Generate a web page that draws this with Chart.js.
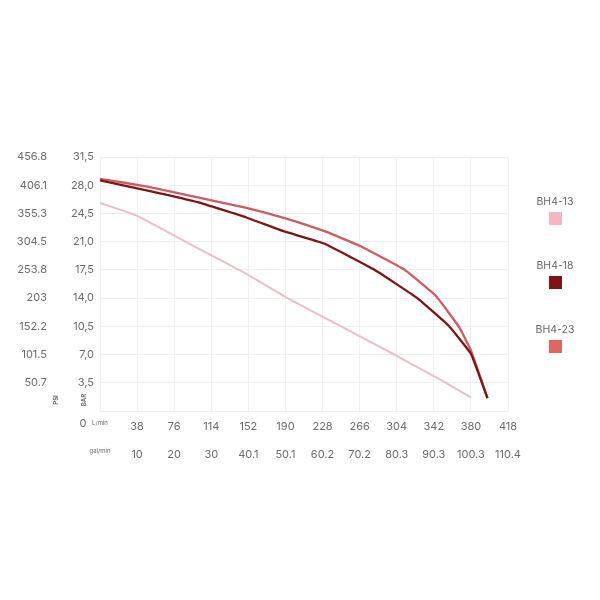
<!DOCTYPE html>
<html>
<head>
<meta charset="utf-8">
<script src="https://cdn.jsdelivr.net/npm/chart.js@4"></script>
<style>
  html, body { margin: 0; padding: 0; background: #fff; }
  #wrap { position: relative; width: 600px; height: 600px; }
  #legend { position: absolute; left: 520px; top: 195px; width: 70px; font-family: Inter, "Noto Sans", sans-serif; }
  .item { height: 64px; text-align: center; color: #666; font-size: 10.5px; line-height: 14px; }
  .box { width: 13px; height: 13px; margin: 3px auto 0; }
</style>
</head>
<body>
<div id="wrap">
  <canvas id="chart" width="600" height="600"></canvas>
  <div id="legend"></div>
</div>
<script>
// flow in L/min, pressure in bar
const flowTicks = [0, 38, 76, 114, 152, 190, 228, 266, 304, 342, 380, 418];
const lminLabels = ['L/min', '38', '76', '114', '152', '190', '228', '266', '304', '342', '380', '418'];
const galLabels = ['gal/min', '10', '20', '30', '40.1', '50.1', '60.2', '70.2', '80.3', '90.3', '100.3', '110.4'];
const barLabels = ['', '3,5', '7,0', '10,5', '14,0', '17,5', '21,0', '24,5', '28,0', '31,5'];
const psiLabels = ['', '50.7', '101.5', '152.2', '203', '253.8', '304.5', '355.3', '406.1', '456.8'];

const seriesNames = ['BH4-13', 'BH4-18', 'BH4-23'];
const lineColors = ['#e9bfc5', '#7d1416', '#cc5b62'];
const boxColors = ['#f4b6c2', '#7d1416', '#e06663'];

const flow13 = [0, 38, 100, 150, 192, 250, 300, 350, 380];
const bar13 = [25.8, 24.2, 20.2, 17.0, 14.0, 10.3, 7.1, 3.8, 1.7];
const flow18 = [0, 50, 100, 150, 188, 229, 280, 325, 357, 380, 397];
const bar18 = [28.6, 27.3, 25.9, 24.0, 22.3, 20.8, 17.6, 14.0, 10.6, 7.1, 1.6];
const flow23 = [0, 50, 100, 150, 190, 230, 266, 311, 344, 368, 380, 397];
const bar23 = [28.8, 27.8, 26.5, 25.2, 23.9, 22.3, 20.5, 17.6, 14.3, 10.4, 7.5, 1.6];

const flows = [flow13, flow18, flow23];
const bars = [bar13, bar18, bar23];

const font = 'Inter, "Noto Sans", sans-serif';
const grey = '#6b6b6b';
const gridColor = '#f0f0f0';

const datasets = seriesNames.map((name, i) => ({
  label: name,
  data: flows[i].map((f, j) => ({ x: f, y: bars[i][j] })),
  borderColor: lineColors[i],
  borderWidth: i === 0 ? 2 : 2.3,
  pointRadius: 0,
  tension: 0.1,
  fill: false
}));

// small texts that sit outside the tick rows: BAR / PSI titles and the zero
const extraText = {
  id: 'extraText',
  afterDraw(chart) {
    const c = chart.ctx;
    const yb = chart.scales.y.getPixelForValue(0);
    c.save();
    c.fillStyle = grey;
    c.textAlign = 'center';
    c.textBaseline = 'middle';
    c.font = '11px ' + font;
    c.fillText('0', 83, yb + 13);
    c.font = 'bold 6px ' + font;
    [['PSI', 56], ['BAR', 84]].forEach(([t, x]) => {
      c.save();
      c.translate(x, yb - 11);
      c.rotate(-Math.PI / 2);
      c.fillText(t, 0, 0);
      c.restore();
    });
    c.restore();
  }
};

new Chart(document.getElementById('chart'), {
  type: 'line',
  data: { datasets },
  options: {
    responsive: false,
    animation: false,
    layout: { padding: { top: 157, right: 92, bottom: 141, left: 0 } },
    plugins: { legend: { display: false }, tooltip: { enabled: false } },
    scales: {
      x: {
        type: 'linear', min: 0, max: 418,
        afterBuildTicks: s => { s.ticks = flowTicks.map(v => ({ value: v })); },
        afterFit: s => { s.height = 25; },
        grid: { color: gridColor, drawTicks: false },
        border: { display: false },
        ticks: {
          color: grey, padding: 9,
          font: ctx => ({ family: font, size: ctx.index === 0 ? 6 : 11 }),
          callback: (v, i) => lminLabels[i]
        }
      },
      gal: {
        type: 'linear', position: 'bottom', min: 0, max: 418,
        afterBuildTicks: s => { s.ticks = flowTicks.map(v => ({ value: v })); },
        afterFit: s => { s.height = 23; },
        grid: { display: false },
        border: { display: false },
        ticks: {
          color: grey, padding: 4,
          font: ctx => ({ family: font, size: ctx.index === 0 ? 6 : 11 }),
          callback: (v, i) => galLabels[i]
        }
      },
      y: {
        position: 'left', min: 0, max: 31.5,
        afterBuildTicks: s => { s.ticks = barLabels.map((_, i) => ({ value: i * 3.5 })); },
        afterFit: s => { s.width = 43; },
        grid: { color: gridColor, drawTicks: false },
        border: { display: false },
        ticks: { color: grey, padding: 6, font: { family: font, size: 11 }, callback: (v, i) => barLabels[i] }
      },
      psi: {
        position: 'left', min: 0, max: 31.5,
        afterBuildTicks: s => { s.ticks = barLabels.map((_, i) => ({ value: i * 3.5 })); },
        afterFit: s => { s.width = 57; },
        grid: { display: false },
        border: { display: false },
        ticks: { color: grey, padding: 2, font: { family: font, size: 11 }, callback: (v, i) => psiLabels[i] }
      }
    }
  },
  plugins: [extraText]
});

const legend = document.getElementById('legend');
seriesNames.forEach((name, i) => {
  const item = document.createElement('div');
  item.className = 'item';
  item.innerHTML = '<div>' + name + '</div><div class="box" style="background:' + boxColors[i] + '"></div>';
  legend.appendChild(item);
});
</script>
</body>
</html>
